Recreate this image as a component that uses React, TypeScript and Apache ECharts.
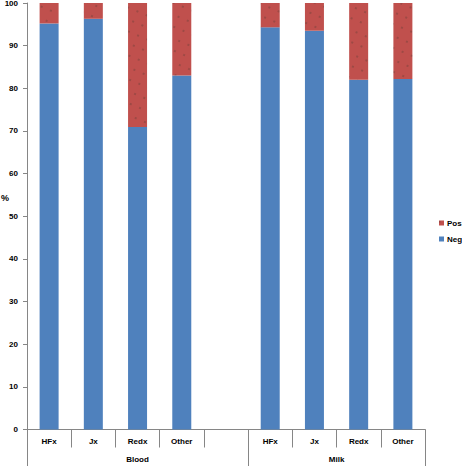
import React, { useEffect, useRef } from "react";
import * as echarts from "echarts";

const categories = ["HFx", "Jx", "Redx", "Other", "", "HFx", "Jx", "Redx", "Other"];
const groups = ["Blood", "Milk"];
const groupSizes = [5, 4];
const negValues: (number | string)[] = [95.2, 96.3, 70.9, 83.0, "-", 94.3, 93.5, 82.0, 82.2];
const posValues: (number | string)[] = [4.8, 3.7, 29.1, 17.0, "-", 5.7, 6.5, 18.0, 17.8];
const yAxisTitle = "%";

const FONT = "'Liberation Sans', Arial, sans-serif";

export default function App() {
  const ref = useRef<HTMLDivElement>(null);
  useEffect(() => {
    if (!ref.current) return;
    const chart = echarts.init(ref.current, undefined, { renderer: "svg" });
    const total = groupSizes.reduce((a, b) => a + b, 0);
    const bounds: number[] = [0];
    const centers: number[] = [];
    let acc = 0;
    groupSizes.forEach((s) => {
      centers.push(acc + s / 2);
      acc += s;
      bounds.push(acc);
    });
    const labelStyle = { fontFamily: FONT, fontSize: 8, fontWeight: "bold" as const, color: "#000" };
    chart.setOption({
      animation: false,
      textStyle: { fontFamily: FONT },
      grid: {
        left: 27,
        right: 37,
        top: 3,
        bottom: 36.5,
        containLabel: false,
        outerBoundsMode: "none",
      },
      graphic: [
        {
          type: "text",
          left: 1,
          top: 193,
          style: { text: yAxisTitle, font: `bold 9px ${FONT}`, fill: "#000" },
        },
      ],
      legend: {
        orient: "vertical",
        left: 434,
        top: 214,
        data: ["Pos", "Neg"],
        icon: "rect",
        itemWidth: 5,
        itemHeight: 5,
        itemGap: 8,
        textStyle: { ...labelStyle, padding: [0, 0, 0, -2] },
      },
      xAxis: [
        {
          type: "category",
          data: categories,
          position: "bottom",
          axisLine: { show: true, lineStyle: { color: "#868686", width: 1 } },
          axisTick: { show: true, length: 18, alignWithLabel: false, lineStyle: { color: "#868686" } },
          axisLabel: { ...labelStyle, margin: 8, interval: 0 },
        },
        {
          type: "value",
          min: 0,
          max: total,
          position: "bottom",
          axisLine: { show: false },
          splitLine: { show: false },
          axisTick: { show: true, length: 37, customValues: bounds, lineStyle: { color: "#868686" } },
          axisLabel: {
            ...labelStyle,
            margin: 26,
            customValues: centers,
            formatter: (v: number) => {
              const i = centers.indexOf(v);
              return i >= 0 ? groups[i] : "";
            },
          },
        },
      ],
      yAxis: {
        type: "value",
        min: 0,
        max: 100,
        interval: 10,
        axisLine: { show: true, lineStyle: { color: "#868686", width: 1 } },
        axisTick: { show: true, length: 4, lineStyle: { color: "#868686" } },
        axisLabel: { ...labelStyle, margin: 9 },
        splitLine: { show: false },
      },
      series: [
        {
          name: "Neg",
          type: "bar",
          stack: "total",
          xAxisIndex: 0,
          barWidth: 19,
          data: negValues,
          itemStyle: { color: "#4F81BD" },
        },
        {
          name: "Pos",
          type: "bar",
          stack: "total",
          xAxisIndex: 0,
          barWidth: 19,
          data: posValues,
          itemStyle: {
            color: "#C0504D",
            decal: {
              symbol: "rect",
              symbolSize: 0.5,
              color: "rgba(30,45,35,0.85)",
              dashArrayX: [2, 8],
              dashArrayY: [2, 9],
              rotation: 0.4,
            },
          },
        },
      ],
    });
    return () => chart.dispose();
  }, []);
  return (
    <div
      ref={ref}
      style={{ position: "fixed", left: 0, top: 0, width: 462, height: 466, background: "#fff" }}
    />
  );
}
